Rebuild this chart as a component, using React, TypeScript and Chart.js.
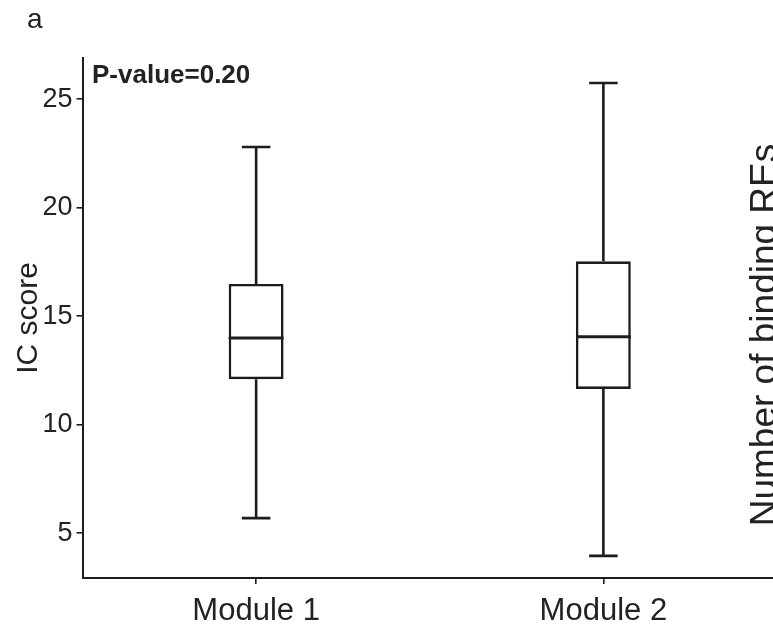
import React, { useEffect, useRef } from "react";
import { Chart, registerables } from "chart.js";

Chart.register(...registerables);

const categories = ["Module 1", "Module 2"];
const whiskerLow = [5.7, 3.96];
const q1 = [12.1, 11.65];
const median = [14.0, 14.06];
const q3 = [16.49, 17.53];
const whiskerHigh = [22.8, 25.75];
const yTicks = [5, 10, 15, 20, 25];
const yMin = 2.94;
const yMax = 26.9;
const pValueText = "P-value=0.20";
const panelLabel = "a";
const yTitle = "IC score";
const nextPanelTitle = "Number of binding REs";

const FONT = '"Liberation Sans", Arial, Helvetica, sans-serif';
const INK = "#1c1c1c";

const boxPlugin = {
  id: "boxWhiskers",
  afterDatasetsDraw(chart: any) {
    const ctx = chart.ctx;
    const xs = chart.scales.x;
    const ys = chart.scales.y;
    const meta = chart.getDatasetMeta(0);
    ctx.save();
    ctx.strokeStyle = INK;
    ctx.lineCap = "butt";
    categories.forEach((_, i) => {
      const x = xs.getPixelForValue(i);
      const bar = meta.data[i];
      const w = bar ? bar.width : 50;
      const cap = w * 0.52;
      const yHi = ys.getPixelForValue(whiskerHigh[i]);
      const yQ3 = ys.getPixelForValue(q3[i]);
      const yQ1 = ys.getPixelForValue(q1[i]);
      const yLo = ys.getPixelForValue(whiskerLow[i]);
      const yMed = ys.getPixelForValue(median[i]);
      ctx.lineWidth = 2.6;
      ctx.beginPath();
      ctx.moveTo(x, yQ3);
      ctx.lineTo(x, yHi);
      ctx.moveTo(x - cap / 2, yHi);
      ctx.lineTo(x + cap / 2, yHi);
      ctx.moveTo(x, yQ1);
      ctx.lineTo(x, yLo);
      ctx.moveTo(x - cap / 2, yLo);
      ctx.lineTo(x + cap / 2, yLo);
      ctx.stroke();
      ctx.lineWidth = 3;
      ctx.beginPath();
      ctx.moveTo(x - w / 2, yMed);
      ctx.lineTo(x + w / 2, yMed);
      ctx.stroke();
    });
    ctx.restore();
  },
  afterDraw(chart: any) {
    const ctx = chart.ctx;
    ctx.save();
    ctx.fillStyle = "#222";
    ctx.textAlign = "left";
    ctx.textBaseline = "alphabetic";
    ctx.font = `28px ${FONT}`;
    ctx.fillText(panelLabel, 27, 28);
    ctx.font = `bold 26px ${FONT}`;
    ctx.fillText(pValueText, 92, 83);
    ctx.font = `30px ${FONT}`;
    ctx.save();
    ctx.translate(37, 318);
    ctx.rotate(-Math.PI / 2);
    ctx.textAlign = "center";
    ctx.fillText(yTitle, 0, 0);
    ctx.restore();
    ctx.font = `37px ${FONT}`;
    ctx.save();
    ctx.translate(776, 335);
    ctx.rotate(-Math.PI / 2);
    ctx.textAlign = "center";
    ctx.fillText(nextPanelTitle, 0, 0);
    ctx.restore();
    ctx.restore();
  },
};

export default function App() {
  const ref = useRef<HTMLCanvasElement | null>(null);
  useEffect(() => {
    if (!ref.current) return;
    const chart = new Chart(ref.current, {
      type: "bar",
      data: {
        labels: categories,
        datasets: [
          {
            data: categories.map((_, i) => [q1[i], q3[i]]) as any,
            backgroundColor: "#ffffff",
            borderColor: INK,
            borderWidth: 2.6,
            borderSkipped: false,
            barPercentage: 0.158,
            categoryPercentage: 1,
          },
        ],
      },
      options: {
        animation: false,
        responsive: false,
        events: [],
        layout: { padding: { top: 58, right: 0, bottom: 0, left: 0 } },
        plugins: { legend: { display: false }, tooltip: { enabled: false } },
        scales: {
          x: {
            type: "category",
            offset: true,
            grid: {
              display: true,
              offset: false,
              drawOnChartArea: false,
              drawTicks: true,
              tickLength: 6,
              color: INK,
              lineWidth: 1.6,
            },
            border: { display: true, color: INK, width: 2 },
            ticks: {
              color: "#222",
              font: { family: FONT, size: 31 },
              padding: 9,
            },
            afterFit(scale: any) {
              scale.height = 60;
            },
          },
          y: {
            type: "linear",
            min: yMin,
            max: yMax,
            grid: {
              display: true,
              drawOnChartArea: false,
              drawTicks: true,
              tickLength: 6,
              color: INK,
              lineWidth: 1.6,
            },
            border: { display: true, color: INK, width: 2 },
            ticks: {
              color: "#222",
              font: { family: FONT, size: 27 },
              padding: 4,
            },
            afterBuildTicks(scale: any) {
              scale.ticks = yTicks.map((v) => ({ value: v }));
            },
            afterFit(scale: any) {
              scale.width = 82.5;
            },
          },
        },
      },
      plugins: [boxPlugin],
    });
    return () => chart.destroy();
  }, []);
  return (
    <div style={{ position: "fixed", left: 0, top: 0, width: 777, height: 638, background: "#fff" }}>
      <canvas ref={ref} width={777} height={638} />
    </div>
  );
}
